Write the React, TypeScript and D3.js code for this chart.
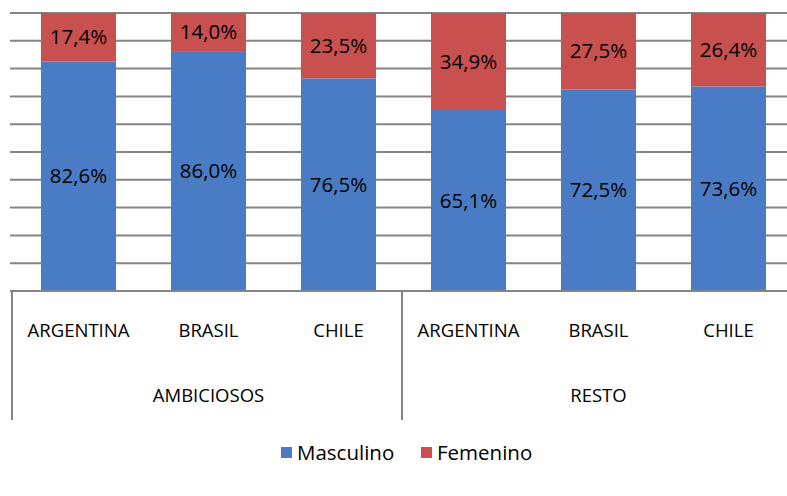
import React from "react";
import * as d3 from "d3";

const groups = ["AMBICIOSOS", "RESTO"];
const countries = ["ARGENTINA", "BRASIL", "CHILE"];
const masculino = [82.6, 86.0, 76.5, 65.1, 72.5, 73.6];
const femenino = [17.4, 14.0, 23.5, 34.9, 27.5, 26.4];
const seriesNames = ["Masculino", "Femenino"];
const yTicks = [0, 10, 20, 30, 40, 50, 60, 70, 80, 90, 100];

const BLUE = "#4a7cc6";
const RED = "#c8504f";
const GRID = "#858585";
const FONT = "'Open Sans', 'Liberation Sans', sans-serif";

const fmt = (v: number) => v.toFixed(1).replace(".", ",") + "%";

export default function App() {
  const width = 787;
  const height = 496;
  const left = 13.5;
  const right = 793.5;
  const top = 13;
  const bottom = 291;

  const keys = groups.flatMap((g) => countries.map((c) => `${g}|${c}`));
  const x = d3.scaleBand<string>().domain(keys).range([left, right]).paddingInner(0.423).paddingOuter(0.2115);
  const y = d3.scaleLinear().domain([0, 100]).range([bottom, top]);

  const rows = keys.map((k, i) => ({ key: k, country: k.split("|")[1], m: masculino[i], f: femenino[i] }));
  const stack = d3.stack<any>().keys(["m", "f"]);
  const stacked = stack(rows as any);
  const colors = [BLUE, RED];

  const groupWidth = (right - left) / groups.length;

  return (
    <svg width={width} height={height} style={{ position: "absolute", left: 0, top: 0, background: "#fff" }}>
      <rect width={width} height={height} fill="#fff" />
      {yTicks.map((t) => (
        <line key={t} x1={10} x2={width} y1={y(t)} y2={y(t)} stroke={GRID} strokeWidth={2} />
      ))}
      {stacked.map((layer, li) =>
        layer.map((d, i) => (
          <rect
            key={`${li}-${i}`}
            x={x(rows[i].key)}
            width={x.bandwidth()}
            y={y(d[1])}
            height={y(d[0]) - y(d[1])}
            fill={colors[li]}
          />
        ))
      )}
      {stacked.map((layer, li) =>
        layer.map((d, i) => (
          <text
            key={`t-${li}-${i}`}
            x={(x(rows[i].key) as number) + x.bandwidth() / 2}
            y={(y(d[0]) + y(d[1])) / 2 + 7}
            textAnchor="middle"
            fontFamily={FONT}
            fontSize={20.5}
            fill="#000"
          >
            {fmt(li === 0 ? rows[i].m : rows[i].f)}
          </text>
        ))
      )}
      <line x1={10} x2={width} y1={bottom} y2={bottom} stroke={GRID} strokeWidth={2} />
      {[0, 1, 2].map((i) => {
        const gx = left + i * groupWidth - 1.5;
        return <line key={i} x1={gx} x2={gx} y1={bottom} y2={420} stroke={GRID} strokeWidth={2} />;
      })}
      {rows.map((r) => (
        <text
          key={`c-${r.key}`}
          x={(x(r.key) as number) + x.bandwidth() / 2}
          y={337}
          textAnchor="middle"
          fontFamily={FONT}
          fontSize={18.5}
          fill="#000"
        >
          {r.country}
        </text>
      ))}
      {groups.map((g, i) => (
        <text
          key={g}
          x={left + i * groupWidth + groupWidth / 2}
          y={402}
          textAnchor="middle"
          fontFamily={FONT}
          fontSize={18.5}
          fill="#000"
        >
          {g}
        </text>
      ))}
      {seriesNames.map((s, i) => {
        const lx = [281, 421][i];
        return (
          <g key={s}>
            <rect x={lx} y={447} width={11} height={11} fill={colors[i]} />
            <text x={lx + 16} y={460} fontFamily={FONT} fontSize={20.5} fill="#000">
              {s}
            </text>
          </g>
        );
      })}
    </svg>
  );
}
